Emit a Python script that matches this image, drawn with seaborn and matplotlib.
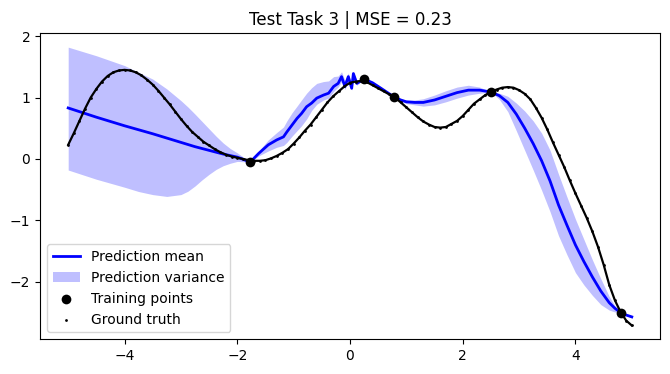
import matplotlib
matplotlib.use("Agg")
import matplotlib.pyplot as plt
import seaborn as sns
import numpy as np
import pandas as pd

# ---------------- data ----------------
title_text = "Test Task 3 | MSE = 0.23"

mean_x = [-5.0, -4.5, -4.0, -3.75, -3.5, -3.25, -3.0, -2.875, -2.75, -2.625, -2.5,
          -2.375, -2.25, -2.125, -2.0, -1.77,
          -1.62, -1.45, -1.30, -1.18, -1.12, -1.03, -0.94, -0.86, -0.77, -0.68,
          -0.59, -0.47, -0.38, -0.29, -0.21, -0.15, -0.09, -0.03, 0.03, 0.06,
          0.12, 0.25, 0.4, 0.55, 0.78, 0.9, 1.0, 1.15, 1.3, 1.5, 1.7, 1.9, 2.1,
          2.3, 2.5, 2.65, 2.8, 2.95, 3.1, 3.25, 3.4, 3.55, 3.7, 3.85, 4.0, 4.15,
          4.3, 4.45, 4.6, 4.7, 4.8, 4.9, 5.0]
mean_y = [0.83, 0.68, 0.54, 0.475, 0.41, 0.34, 0.27, 0.235, 0.20, 0.17, 0.14,
          0.11, 0.08, 0.055, 0.03, -0.05,
          0.09, 0.23, 0.31, 0.36, 0.44, 0.55, 0.66, 0.74, 0.85, 0.91,
          0.99, 1.04, 1.07, 1.18, 1.23, 1.34, 1.18, 1.34, 1.15, 1.39,
          1.23, 1.30, 1.24, 1.15, 1.01, 0.96, 0.93, 0.92, 0.92, 0.96, 1.02, 1.08, 1.12,
          1.12, 1.09, 1.03, 0.92, 0.73, 0.50, 0.25, -0.03, -0.36, -0.75, -1.08, -1.40, -1.67,
          -1.92, -2.15, -2.34, -2.43, -2.50, -2.54, -2.57]
band_hi = [0.99, 1.00, 0.98, 0.935, 0.89, 0.80, 0.68, 0.61, 0.53, 0.44, 0.35,
           0.26, 0.18, 0.115, 0.07, 0.0,
           0.04, 0.08, 0.12, 0.16, 0.18, 0.20, 0.20, 0.22, 0.22, 0.25,
           0.24, 0.22, 0.20, 0.16, 0.12, 0.08, 0.10, 0.06, 0.06, 0.03,
           0.04, 0.0, 0.02, 0.02, 0.0, 0.02, 0.03, 0.04, 0.06, 0.08, 0.09, 0.09, 0.08,
           0.05, 0.0, 0.04, 0.10, 0.18, 0.28, 0.37, 0.45, 0.50, 0.50, 0.46, 0.42, 0.36,
           0.28, 0.20, 0.10, 0.04, 0.0, 0.01, 0.02]
band_lo = [1.01, 1.01, 1.00, 1.005, 0.99, 0.95, 0.85, 0.76, 0.64, 0.51, 0.39,
           0.28, 0.19, 0.125, 0.07, 0.0,
           0.04, 0.10, 0.12, 0.14, 0.17, 0.18, 0.20, 0.20, 0.20, 0.12,
           0.10, 0.08, 0.08, 0.08, 0.06, 0.08, 0.05, 0.06, 0.03, 0.05,
           0.03, 0.0, 0.02, 0.02, 0.0, 0.02, 0.03, 0.04, 0.06, 0.08, 0.09, 0.09, 0.08,
           0.05, 0.0, 0.06, 0.15, 0.27, 0.36, 0.43, 0.48, 0.50, 0.50, 0.48, 0.45, 0.38,
           0.30, 0.22, 0.12, 0.06, 0.0, 0.01, 0.02]

train_x = [-1.77, 0.25, 0.78, 2.5, 4.8]
train_y = [-0.05, 1.30, 1.01, 1.09, -2.50]

truth_x = [-5.0, -4.9, -4.8, -4.7, -4.6, -4.5, -4.4, -4.3, -4.2, -4.1,
           -4.0, -3.9, -3.8, -3.7, -3.6, -3.5, -3.4, -3.3, -3.2, -3.1,
           -3.0, -2.9, -2.8, -2.7, -2.6, -2.5, -2.4, -2.3, -2.2, -2.1,
           -2.0, -1.9, -1.8, -1.7, -1.6, -1.5, -1.4, -1.3, -1.2, -1.1,
           -1.0, -0.9, -0.8, -0.7, -0.6, -0.5, -0.4, -0.3, -0.2, -0.1,
           0.0, 0.1, 0.2, 0.3, 0.4, 0.5, 0.6, 0.7, 0.8, 0.9,
           1.0, 1.1, 1.2, 1.3, 1.4, 1.5, 1.6, 1.7, 1.8, 1.9,
           2.0, 2.1, 2.2, 2.3, 2.4, 2.5, 2.6, 2.7, 2.8, 2.9,
           3.0, 3.1, 3.2, 3.3, 3.4, 3.5, 3.6, 3.7, 3.8, 3.9,
           4.0, 4.1, 4.2, 4.3, 4.4, 4.5, 4.6, 4.7, 4.8, 4.9, 5.0]
truth_y = [0.23, 0.42, 0.62, 0.82, 1.00, 1.14, 1.26, 1.35, 1.41, 1.44,
           1.45, 1.44, 1.41, 1.36, 1.29, 1.21, 1.11, 1.00, 0.89, 0.77,
           0.65, 0.54, 0.44, 0.36, 0.28, 0.22, 0.16, 0.11, 0.07, 0.04,
           0.02, 0.00, -0.02, -0.03, -0.03, -0.02, 0.01, 0.05, 0.10, 0.16,
           0.25, 0.35, 0.46, 0.56, 0.68, 0.80, 0.92, 1.02, 1.10, 1.18,
           1.24, 1.26, 1.27, 1.25, 1.20, 1.15, 1.10, 1.05, 1.00, 0.92,
           0.84, 0.76, 0.68, 0.61, 0.56, 0.52, 0.51, 0.52, 0.57, 0.62,
           0.70, 0.80, 0.90, 0.97, 1.04, 1.09, 1.13, 1.16, 1.17, 1.16,
           1.12, 1.06, 0.97, 0.83, 0.67, 0.48, 0.27, 0.07, -0.13, -0.35,
           -0.56, -0.76, -0.96, -1.18, -1.43, -1.72, -2.05, -2.30, -2.49, -2.63, -2.71]

# ---------------- plotting ----------------
fig = plt.figure(figsize=(6.7, 3.74), dpi=100)
ax = fig.add_axes([40 / 670, 1 - 339 / 374, 620 / 670, 306 / 374])

mean_df = pd.DataFrame({"x": mean_x, "y": mean_y})
upper = np.array(mean_y) + np.array(band_hi)
lower = np.array(mean_y) - np.array(band_lo)

ax.fill_between(mean_x, lower, upper, color="blue", alpha=0.25,
                linewidth=0, label="Prediction variance")
sns.lineplot(data=mean_df, x="x", y="y", ax=ax, color="blue", linewidth=2,
             sort=False, label="Prediction mean")
truth_df = pd.DataFrame({"x": truth_x, "y": truth_y})
sns.lineplot(data=truth_df, x="x", y="y", ax=ax, color="black", linewidth=1.6,
             sort=False, legend=False)
sns.scatterplot(data=truth_df, x="x", y="y", ax=ax, color="black", s=4,
                marker="o", linewidth=0, label="Ground truth", zorder=3)
train_df = pd.DataFrame({"x": train_x, "y": train_y})
sns.scatterplot(data=train_df, x="x", y="y", ax=ax, color="black", s=49,
                marker="o", linewidth=0, label="Training points", zorder=4)

ax.set_xlabel("")
ax.set_ylabel("")
ax.set_title(title_text, fontsize=12)
ax.set_xlim(-5.5, 5.5)
ax.set_ylim(-2.93, 2.05)
ax.set_xticks([-4, -2, 0, 2, 4])
ax.set_yticks([-2, -1, 0, 1, 2])

handles, labels = ax.get_legend_handles_labels()
order = ["Prediction mean", "Prediction variance", "Training points", "Ground truth"]
hmap = dict(zip(labels, handles))
ax.legend([hmap[k] for k in order], order, loc="lower left", fontsize=10)

fig.savefig("out.png", dpi=100)
